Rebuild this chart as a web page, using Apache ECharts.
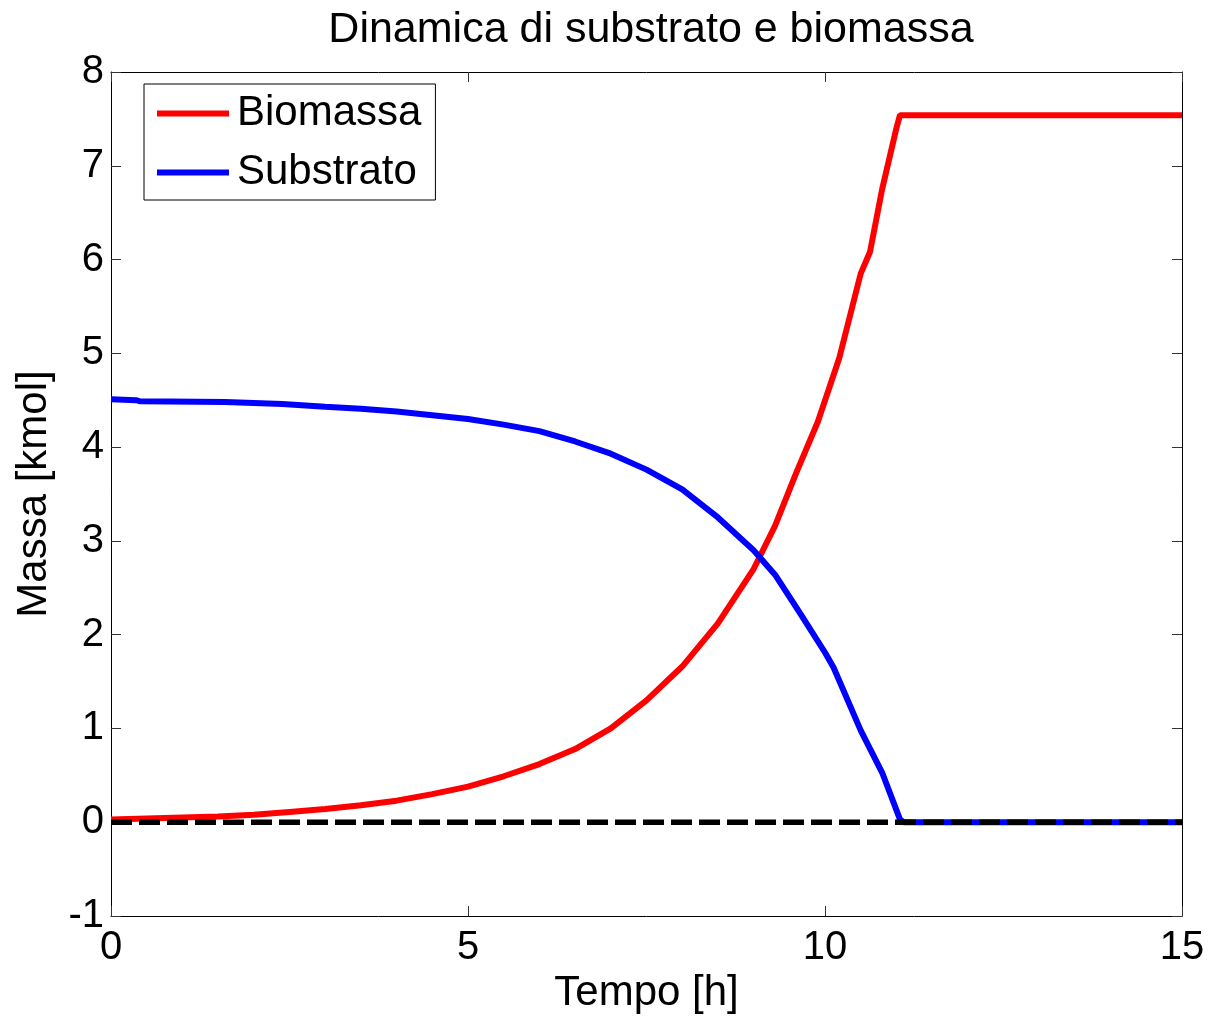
<!DOCTYPE html>
<html>
<head>
<meta charset="utf-8">
<script src="https://cdn.jsdelivr.net/npm/echarts@6/dist/echarts.min.js"></script>
<style>
html,body{margin:0;padding:0;background:#fff;}
#chart{width:1211px;height:1017px;}
</style>
</head>
<body>
<div id="chart"></div>
<script>
const titleText = 'Dinamica di substrato e biomassa';
const xName = 'Tempo [h]';
const yName = 'Massa [kmol]';
const seriesNames = ['Biomassa', 'Substrato'];

const bioTime = [0, 0.5, 1.0, 1.5, 2.0, 2.5, 3.0, 3.5, 4.0, 4.5, 5.0, 5.5, 6.0, 6.5, 7.0, 7.5, 8.0, 8.5, 9.0, 9.3, 9.6, 9.9, 10.2, 10.5, 10.63, 10.8, 11.0, 11.05, 15];
const bioValues = [0.03, 0.04, 0.05, 0.06, 0.08, 0.11, 0.14, 0.18, 0.23, 0.30, 0.38, 0.49, 0.62, 0.78, 1.00, 1.30, 1.66, 2.12, 2.70, 3.16, 3.73, 4.27, 4.95, 5.85, 6.08, 6.75, 7.40, 7.54, 7.54];

const subTime = [0, 0.35, 0.4, 1.6, 2.4, 3.0, 3.5, 4.0, 4.5, 5.0, 5.5, 6.0, 6.5, 7.0, 7.5, 8.0, 8.5, 9.0, 9.3, 9.65, 10.0, 10.12, 10.5, 10.8, 11.05, 11.1, 15];
const subValues = [4.51, 4.50, 4.49, 4.48, 4.46, 4.43, 4.41, 4.38, 4.34, 4.30, 4.24, 4.17, 4.06, 3.93, 3.76, 3.55, 3.25, 2.90, 2.64, 2.23, 1.81, 1.65, 0.98, 0.53, 0.03, 0, 0];

const zeroTime = [0, 15];
const zeroValues = [0, 0];

const xTicks = {min: 0, max: 15, interval: 5};
const yTicks = {min: -1, max: 8, interval: 1};

function pairs(t, v) { return t.map((x, i) => [x, v[i]]); }

const FONT = '"Liberation Sans", Arial, Helvetica, sans-serif';
const chart = echarts.init(document.getElementById('chart'), null, {renderer: 'canvas'});

function axisCommon() {
  return {
    axisLine: {show: true, onZero: false, lineStyle: {color: '#000', width: 1}},
    axisTick: {show: true, inside: true, length: 10, lineStyle: {color: '#333', width: 1}},
    splitLine: {show: false}
  };
}

chart.setOption({
  animation: false,
  backgroundColor: '#fff',
  title: {
    text: titleText,
    left: 646,
    textAlign: 'center',
    top: 4,
    textStyle: {fontFamily: FONT, fontSize: 43, fontWeight: 'normal', color: '#000'}
  },
  grid: {left: 111, right: 29, top: 72, bottom: 101, containLabel: false, outerBoundsMode: 'none'},
  legend: {
    data: seriesNames,
    left: 144,
    top: 84,
    orient: 'vertical',
    icon: 'rect',
    itemWidth: 72,
    itemHeight: 6,
    itemGap: 14,
    padding: [7, 14, 5, 13],
    backgroundColor: '#fff',
    borderColor: '#000',
    borderWidth: 1,
    textStyle: {fontFamily: FONT, fontSize: 42, color: '#000', lineHeight: 45, padding: [0, 0, 0, 3]}
  },
  xAxis: [
    Object.assign(axisCommon(), {
      type: 'value', position: 'bottom',
      min: xTicks.min, max: xTicks.max, interval: xTicks.interval,
      name: xName, nameLocation: 'middle', nameGap: 54,
      nameTextStyle: {fontFamily: FONT, fontSize: 42, color: '#000'},
      axisLabel: {fontFamily: FONT, fontSize: 40, color: '#000', margin: 12}
    }),
    Object.assign(axisCommon(), {
      type: 'value', position: 'top',
      min: xTicks.min, max: xTicks.max, interval: xTicks.interval,
      axisLabel: {show: false}
    })
  ],
  yAxis: [
    Object.assign(axisCommon(), {
      type: 'value', position: 'left',
      min: yTicks.min, max: yTicks.max, interval: yTicks.interval,
      name: yName, nameLocation: 'middle', nameGap: 56, nameRotate: 90,
      nameTextStyle: {fontFamily: FONT, fontSize: 42, color: '#000'},
      axisLabel: {fontFamily: FONT, fontSize: 40, color: '#000', margin: 7}
    }),
    Object.assign(axisCommon(), {
      type: 'value', position: 'right',
      min: yTicks.min, max: yTicks.max, interval: yTicks.interval,
      axisLabel: {show: false}
    })
  ],
  series: [
    {
      name: seriesNames[0], type: 'line', data: pairs(bioTime, bioValues),
      showSymbol: false, symbol: 'none',
      lineStyle: {color: '#ff0000', width: 6}, itemStyle: {color: '#ff0000'}, z: 3
    },
    {
      name: seriesNames[1], type: 'line', data: pairs(subTime, subValues),
      showSymbol: false, symbol: 'none',
      lineStyle: {color: '#0000ff', width: 6}, itemStyle: {color: '#0000ff'}, z: 4
    },
    {
      name: 'zero', type: 'line', data: pairs(zeroTime, zeroValues),
      showSymbol: false, symbol: 'none',
      lineStyle: {color: '#000', width: 5.5, type: [21, 7]}, z: 5, silent: true
    }
  ]
});
</script>
</body>
</html>
